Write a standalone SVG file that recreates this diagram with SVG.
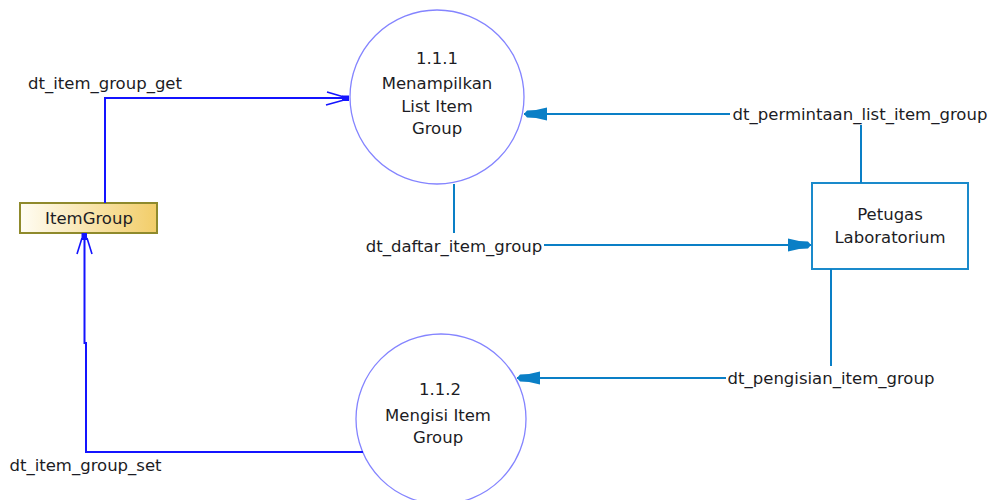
<svg xmlns="http://www.w3.org/2000/svg" width="995" height="500" viewBox="0 0 995 500">
  <style>
    text { font-family: "DejaVu Sans", "Liberation Sans", sans-serif; font-size: 16.5px; fill: #1c1c24; }
    .mid { text-anchor: middle; }
    .process { fill: #ffffff; stroke: #8484ff; stroke-width: 1.3; }
    .entity { fill: #ffffff; stroke: #1a8acb; stroke-width: 2; }
    .store { fill: url(#storeFill); stroke: #8f8a2c; stroke-width: 2; }
    .flow { fill: none; stroke: #0a7fc6; stroke-width: 2; }
    .storeflow { fill: none; stroke: #1414ff; stroke-width: 2; }
    .barb { fill: none; stroke: #1414ff; stroke-width: 1.6; }
  </style>
  <defs>
    <linearGradient id="storeFill" x1="0" y1="0" x2="1" y2="0">
      <stop offset="0" stop-color="#fffdf4"/>
      <stop offset="1" stop-color="#f2cd68"/>
    </linearGradient>
    <marker id="head" markerUnits="userSpaceOnUse" viewBox="0 0 23 14" refX="23" refY="7" markerWidth="23" markerHeight="14" orient="auto">
      <path d="M0,0.5 L11,3 L20,3.5 L23,7 L20,10.5 L11,11 L0,13.5 Z" fill="#0a7fc6"/>
    </marker>
  </defs>

  <!-- processes -->
  <g id="p111">
    <circle class="process" cx="437" cy="97" r="87"/>
    <text class="mid" x="437" y="64">1.1.1</text>
    <text class="mid" x="437" y="88.5">Menampilkan</text>
    <text class="mid" x="437" y="111.5">List Item</text>
    <text class="mid" x="437" y="134">Group</text>
  </g>
  <g id="p112">
    <circle class="process" cx="441" cy="419" r="85"/>
    <text class="mid" x="440" y="395">1.1.2</text>
    <text class="mid" x="438" y="420.5">Mengisi Item</text>
    <text class="mid" x="438" y="443">Group</text>
  </g>

  <!-- external entity -->
  <g id="petugas">
    <rect class="entity" x="812" y="183" width="156" height="86"/>
    <text class="mid" x="890" y="220">Petugas</text>
    <text class="mid" x="890" y="243">Laboratorium</text>
  </g>

  <!-- data store -->
  <g id="itemgroup">
    <rect class="store" x="20" y="203" width="137" height="30"/>
    <text class="mid" x="89" y="224">ItemGroup</text>
  </g>

  <!-- data flows -->
  <g id="connectors">
    <!-- dt_item_group_get -->
    <path class="storeflow" d="M105,203 V98 H349"/>
    <path class="barb" d="M327,92 L344,97 M326,105 L344,100"/>
    <rect x="342" y="95.5" width="7" height="5.5" fill="#1414ff"/>
    <text class="mid" x="105" y="89">dt_item_group_get</text>

    <!-- dt_item_group_set -->
    <path class="storeflow" d="M363,452 H86 V343 H84.5 V234"/>
    <path class="barb" d="M77,254 L82,238 M92,254 L87,238"/>
    <rect x="81.5" y="233" width="5.5" height="7" fill="#1414ff"/>
    <text class="mid" x="85.5" y="471">dt_item_group_set</text>

    <!-- dt_permintaan_list_item_group -->
    <path class="flow" d="M861,183 V125"/>
    <path class="flow" d="M730,114 H524" marker-end="url(#head)"/>
    <text class="mid" x="860" y="120">dt_permintaan_list_item_group</text>

    <!-- dt_daftar_item_group -->
    <path class="flow" d="M454,184 V233"/>
    <path class="flow" d="M544,245 H811" marker-end="url(#head)"/>
    <text class="mid" x="454" y="252">dt_daftar_item_group</text>

    <!-- dt_pengisian_item_group -->
    <path class="flow" d="M831,269 V366"/>
    <path class="flow" d="M726,378 H517" marker-end="url(#head)"/>
    <text class="mid" x="831" y="384">dt_pengisian_item_group</text>
  </g>
</svg>
